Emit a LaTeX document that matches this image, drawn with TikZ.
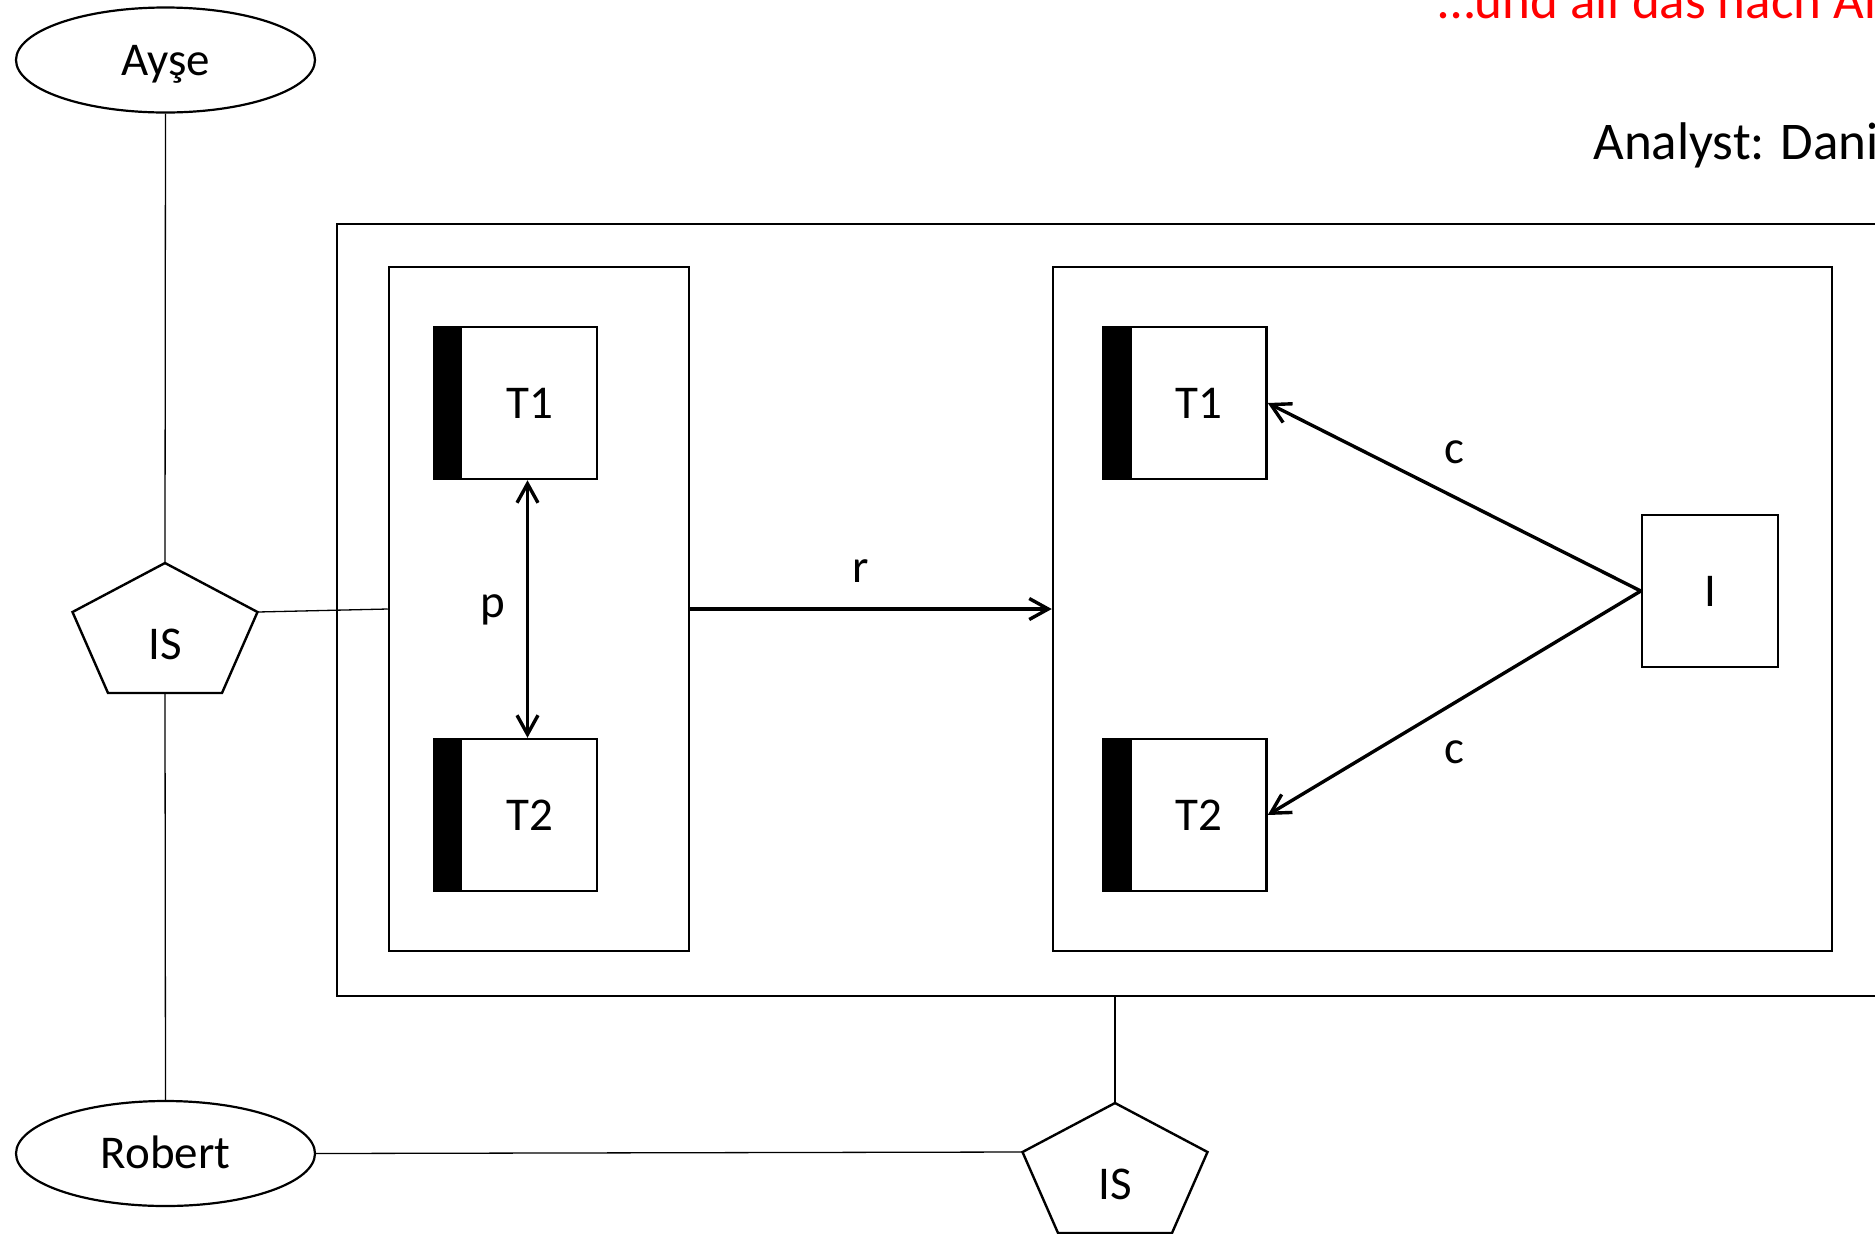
\documentclass[tikz,border=0pt]{standalone}
\usepackage{fontspec}
\setmainfont{Carlito}
\usetikzlibrary{arrows.meta,shapes.geometric}
\begin{document}
\begin{tikzpicture}[x=0.5pt,y=-0.5pt,
  lblfont/.style={font=\fontsize{23.5}{28}\selectfont},
  thinline/.style={line width=0.65pt},
  boxline/.style={draw, line width=1.25pt, rectangle, inner sep=0pt},
  barb/.tip={Straight Barb[length=9.5pt,width=10.5pt]},
  arr/.style={line width=1.7pt, -barb},
  lbl/.style={lblfont, inner sep=0pt, anchor=base},
  actor/.style={draw, ellipse, line width=1.1pt, minimum width=149.5pt,
    minimum height=52.5pt, inner sep=0pt, lblfont, text height=15.1pt, text depth=0pt},
  taskbox/.style={boxline, lblfont, minimum width=81.5pt, minimum height=76pt,
    path picture={\fill (path picture bounding box.north west) rectangle
      ([xshift=14pt]path picture bounding box.south west);}},
  ispent/.pic={
    \draw[line width=1.2pt, line join=miter]
      (0,0) coordinate (-top) -- (92.5,49) coordinate (-right)
      -- (57,130) -- (-57,130) -- (-92.5,49) coordinate (-left) -- cycle;
    \coordinate (-bottom) at (0,130);
    \node[lblfont, inner sep=0pt] (-text) at (0,81) {IS};
  },
]
\useasboundingbox (0,0) rectangle (1875,1233);
\clip (0,0) rectangle (1875,1233);

% header texts
\node[anchor=base west, inner sep=0pt, text=red, font=\fontsize{26.5}{32}\selectfont]
  (head) at (1438,18) {…und all das nach An};
\node[anchor=base west, inner sep=0pt, font=\fontsize{26.5}{32}\selectfont]
  (analyst) at (1593,159) {Analyst: Dani};

% boxes
\node[boxline, minimum width=781.5pt, minimum height=386pt] (outer) at (1118.5,610) {};
\node[boxline, minimum width=150pt, minimum height=342pt] (lbox) at (539,609) {};
\node[boxline, minimum width=389.5pt, minimum height=342pt] (rbox) at (1442.5,609) {};

\node[taskbox] (T1L) at (515.5,403) {\hspace*{14pt}T1};
\node[taskbox] (T2L) at (515.5,815) {\hspace*{14pt}T2};
\node[taskbox] (T1R) at (1185,403) {\hspace*{14pt}T1};
\node[taskbox] (T2R) at (1185,815) {\hspace*{14pt}T2};
\node[boxline, lblfont, minimum width=68pt, minimum height=76pt] (I) at (1710,591) {I};

% actors
\node[actor] (ayse) at (165.5,60) {Ayşe};
\node[actor] (robert) at (165.5,1153.5) {Robert};

% IS pentagons
\pic (isA) at (165,563) {ispent};
\pic (isB) at (1115,1103) {ispent};

% thin connectors
\draw[thinline] (ayse.south) -- (isA-top);
\draw[thinline] (isA-bottom) -- (robert.north);
\draw[thinline] (isA-right) -- (lbox.west);
\draw[thinline] (robert.east) -- (isB-left);
\draw[thinline] (isB-top) -- (isB-top |- outer.south);

% arrows
\draw[arr, barb-barb] ([xshift=6pt]T1L.south) -- ([xshift=6pt]T2L.north);
\draw[arr] (lbox.east) -- (rbox.west);
\draw[arr] (I.west) -- (T1R.east);
\draw[arr] (I.west) -- (T2R.east);

% labels
\node[lbl] (lp) at (493,617) {p};
\node[lbl] (lr) at (861,582) {r};
\node[lbl] (lc1) at (1454,463) {c};
\node[lbl] (lc2) at (1454,763) {c};
\end{tikzpicture}
\end{document}
